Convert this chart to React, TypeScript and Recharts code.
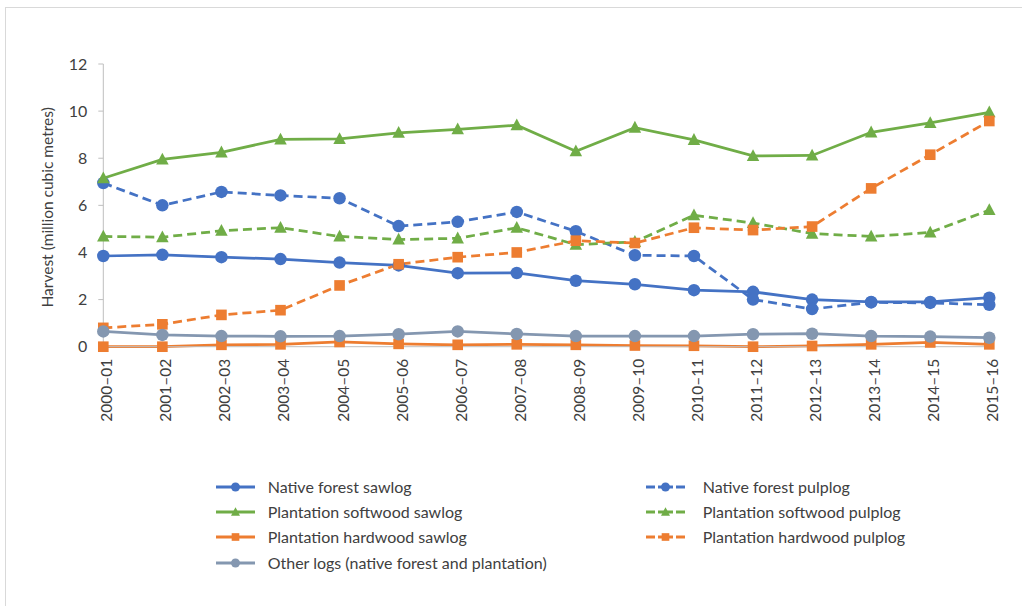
import { LineChart, Line, XAxis, YAxis } from 'recharts';

// Harvest by log type, million cubic metres
const years = [
  '2000–01', '2001–02', '2002–03', '2003–04', '2004–05', '2005–06', '2006–07', '2007–08',
  '2008–09', '2009–10', '2010–11', '2011–12', '2012–13', '2013–14', '2014–15', '2015–16',
];
const nativeSawlog = [3.85, 3.9, 3.8, 3.72, 3.57, 3.45, 3.12, 3.13, 2.8, 2.65, 2.4, 2.33, 2.0, 1.9, 1.9, 2.08];
const nativePulplog = [6.95, 6.0, 6.57, 6.42, 6.3, 5.12, 5.3, 5.72, 4.9, 3.88, 3.85, 2.0, 1.6, 1.88, 1.86, 1.78];
const softwoodSawlog = [7.15, 7.95, 8.25, 8.8, 8.82, 9.08, 9.23, 9.4, 8.3, 9.3, 8.78, 8.1, 8.12, 9.1, 9.5, 9.95];
const softwoodPulplog = [4.68, 4.65, 4.92, 5.05, 4.68, 4.55, 4.6, 5.05, 4.33, 4.45, 5.58, 5.25, 4.8, 4.68, 4.85, 5.8];
const hardwoodSawlog = [0.0, 0.0, 0.08, 0.1, 0.2, 0.12, 0.08, 0.1, 0.08, 0.05, 0.04, 0.0, 0.03, 0.1, 0.18, 0.1];
const hardwoodPulplog = [0.8, 0.95, 1.35, 1.55, 2.6, 3.5, 3.8, 4.0, 4.5, 4.4, 5.05, 4.95, 5.1, 6.72, 8.15, 9.58];
const otherLogs = [0.65, 0.5, 0.45, 0.44, 0.45, 0.53, 0.65, 0.54, 0.45, 0.45, 0.45, 0.53, 0.55, 0.45, 0.43, 0.38];
const yTicks = [0, 2, 4, 6, 8, 10, 12];

type Shape = 'circle' | 'triangle' | 'square';

interface SeriesDef {
  key: string;
  name: string;
  color: string;
  shape: Shape;
  dashed: boolean;
}

const BLUE = '#4472C4';
const GREEN = '#70AD47';
const ORANGE = '#ED7D31';
const GREY = '#8497B0';
const TEXT = '#404040';
const AXIS = '#bfbfbf';
const FONT = 'Lato, "Open Sans", sans-serif';

// Excel series order (later ones paint on top)
const series: SeriesDef[] = [
  { key: 'nativeSawlog', name: 'Native forest sawlog', color: BLUE, shape: 'circle', dashed: false },
  { key: 'nativePulplog', name: 'Native forest pulplog', color: BLUE, shape: 'circle', dashed: true },
  { key: 'softwoodSawlog', name: 'Plantation softwood sawlog', color: GREEN, shape: 'triangle', dashed: false },
  { key: 'softwoodPulplog', name: 'Plantation softwood pulplog', color: GREEN, shape: 'triangle', dashed: true },
  { key: 'hardwoodSawlog', name: 'Plantation hardwood sawlog', color: ORANGE, shape: 'square', dashed: false },
  { key: 'hardwoodPulplog', name: 'Plantation hardwood pulplog', color: ORANGE, shape: 'square', dashed: true },
  { key: 'otherLogs', name: 'Other logs (native forest and plantation)', color: GREY, shape: 'circle', dashed: false },
];

const data = years.map((year, i) => ({
  year,
  nativeSawlog: nativeSawlog[i],
  nativePulplog: nativePulplog[i],
  softwoodSawlog: softwoodSawlog[i],
  softwoodPulplog: softwoodPulplog[i],
  hardwoodSawlog: hardwoodSawlog[i],
  hardwoodPulplog: hardwoodPulplog[i],
  otherLogs: otherLogs[i],
}));

function MarkerGlyph({ cx, cy, shape, color, size }: { cx: number; cy: number; shape: Shape; color: string; size: number }) {
  if (shape === 'triangle') {
    const h = size * 0.9;
    const w = size;
    return (
      <polygon
        points={`${cx},${cy - h * 0.6} ${cx + w / 2},${cy + h * 0.45} ${cx - w / 2},${cy + h * 0.45}`}
        fill={color}
      />
    );
  }
  if (shape === 'square') {
    const s = size * 0.85;
    return <rect x={cx - s / 2} y={cy - s / 2} width={s} height={s} fill={color} />;
  }
  return <circle cx={cx} cy={cy} r={size / 2} fill={color} />;
}

function makeDot(def: SeriesDef) {
  return (props: any) => {
    const { cx, cy, index } = props;
    if (cx == null || cy == null) return <g key={`${def.key}-${index}`} />;
    return (
      <g key={`${def.key}-${index}`}>
        <MarkerGlyph cx={cx} cy={cy} shape={def.shape} color={def.color} size={12.5} />
      </g>
    );
  };
}

function YearTick({ x, y, payload }: any) {
  const ty = y + 10;
  return (
    <text
      x={x}
      y={ty}
      transform={`rotate(-90, ${x}, ${ty})`}
      textAnchor="end"
      dy={9}
      fill={TEXT}
      fontSize={15.5}
      fontFamily={FONT}
    >
      {payload.value}
    </text>
  );
}

function LegendIcon({ def }: { def: SeriesDef }) {
  const segs = def.dashed ? [[0, 9], [12, 27], [30, 39]] : [[0, 39]];
  return (
    <svg width={39} height={14} style={{ display: 'block' }}>
      {segs.map(([a, b]) => (
        <line key={a} x1={a} x2={b} y1={7} y2={7} stroke={def.color} strokeWidth={3} />
      ))}
      <MarkerGlyph cx={19.5} cy={7} shape={def.shape} color={def.color} size={9} />
    </svg>
  );
}

// two-column legend, row by row like Excel
const legendRows = [487.3, 511.7, 537.3, 563.3];
const legendCols = [{ icon: 216, text: 267.7 }, { icon: 646, text: 702.7 }];

export default function App() {
  return (
    <div
      style={{
        position: 'absolute',
        left: 0,
        top: 0,
        width: 1022,
        height: 606,
        overflow: 'hidden',
        background: '#fff',
        fontFamily: FONT,
      }}
    >
      {/* chart area frame */}
      <div
        style={{
          position: 'absolute',
          left: 5,
          top: 7,
          width: 1100,
          height: 700,
          borderTop: '1.5px solid #d9d9d9',
          borderLeft: '1.5px solid #d9d9d9',
        }}
      />

      <div style={{ position: 'absolute', left: 0, top: 0 }}>
        <LineChart width={1022} height={606} data={data} margin={{ top: 64, right: 32.7, bottom: 179.3, left: 0 }}>
          <XAxis
            dataKey="year"
            interval={0}
            height={80}
            tick={<YearTick />}
            tickLine={false}
            tickSize={0}
            axisLine={{ stroke: AXIS, strokeWidth: 1 }}
          />
          <YAxis
            domain={[0, 12]}
            ticks={yTicks}
            interval={0}
            width={103.3}
            tickSize={5}
            tickMargin={11}
            tick={{ fill: TEXT, fontSize: 16, fontFamily: FONT }}
            tickLine={{ stroke: AXIS }}
            axisLine={{ stroke: AXIS, strokeWidth: 1 }}
            label={{
              content: ({ viewBox }: any) => (
                <text
                  x={47}
                  y={viewBox.y + viewBox.height / 2 + 2}
                  transform={`rotate(-90, 47, ${viewBox.y + viewBox.height / 2 + 2})`}
                  textAnchor="middle"
                  dominantBaseline="central"
                  fill={TEXT}
                  fontSize={15.5}
                  fontFamily={FONT}
                >
                  Harvest (million cubic metres)
                </text>
              ),
            }}
          />
          {series.map((def) => (
            <Line
              key={def.key}
              type="linear"
              dataKey={def.key}
              name={def.name}
              stroke={def.color}
              strokeWidth={2.75}
              strokeDasharray={def.dashed ? '9 5' : undefined}
              dot={makeDot(def)}
              activeDot={false}
              isAnimationActive={false}
            />
          ))}
        </LineChart>
      </div>

      {series.map((def, i) => {
        const col = legendCols[i % 2 === 0 ? 0 : 1];
        const rowY = legendRows[Math.floor(i / 2)];
        return (
          <div key={def.key}>
            <div style={{ position: 'absolute', left: col.icon, top: rowY - 7 }}>
              <LegendIcon def={def} />
            </div>
            <div
              style={{
                position: 'absolute',
                left: col.text,
                top: rowY - 10,
                height: 20,
                lineHeight: '20px',
                fontSize: 16,
                color: TEXT,
                whiteSpace: 'nowrap',
              }}
            >
              {def.name}
            </div>
          </div>
        );
      })}
    </div>
  );
}
